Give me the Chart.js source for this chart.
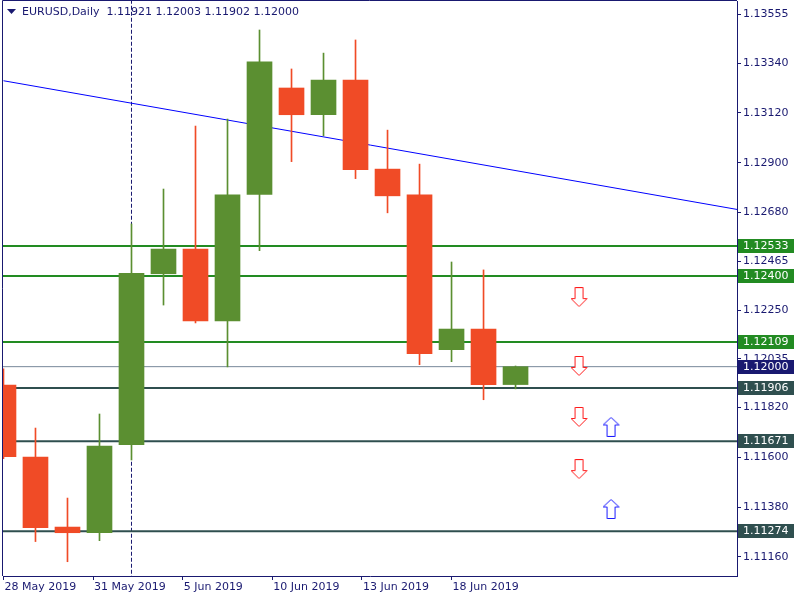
<!DOCTYPE html>
<html>
<head>
<meta charset="utf-8">
<script src="https://cdn.jsdelivr.net/npm/chart.js@4.4.1/dist/chart.umd.min.js"></script>
<style>
  html, body { margin: 0; padding: 0; background: #fff; }
  #wrap { width: 800px; height: 600px; }
</style>
</head>
<body>
<div id="wrap"><canvas id="chart" width="800" height="600"></canvas></div>
<script>
'use strict';

const TITLE = 'EURUSD,Daily  1.11921 1.12003 1.11902 1.12000';

// daily candles, 28 May 2019 .. 19 Jun 2019
const candleDates = ['28 May', '29 May', '30 May', '31 May', '3 Jun', '4 Jun', '5 Jun', '6 Jun', '7 Jun',
  '10 Jun', '11 Jun', '12 Jun', '13 Jun', '14 Jun', '17 Jun', '18 Jun', '19 Jun'];
const opens  = [1.11919, 1.11601, 1.11292, 1.11267, 1.11656, 1.12410, 1.12519, 1.12202, 1.12760,
  1.13230, 1.13112, 1.13265, 1.12872, 1.12758, 1.12075, 1.12166, 1.11921];
const highs  = [1.11990, 1.11729, 1.11420, 1.11791, 1.12630, 1.12784, 1.13062, 1.13093, 1.13486,
  1.13314, 1.13384, 1.13442, 1.13044, 1.12894, 1.12462, 1.12427, 1.12003];
const lows   = [1.11594, 1.11228, 1.11139, 1.11232, 1.11588, 1.12272, 1.12193, 1.11999, 1.12512,
  1.12905, 1.13019, 1.12830, 1.12679, 1.12009, 1.12022, 1.11854, 1.11902];
const closes = [1.11603, 1.11289, 1.11267, 1.11650, 1.12412, 1.12519, 1.12202, 1.12758, 1.13345,
  1.13112, 1.13265, 1.12869, 1.12754, 1.12057, 1.12166, 1.11920, 1.12000];

// time axis labels (bar index where each label sits)
const dateTicks  = [0, 2.8, 5.6, 8.4, 11.2, 14];
const dateLabels = ['28 May 2019', '31 May 2019', '5 Jun 2019', '10 Jun 2019', '13 Jun 2019', '18 Jun 2019'];

const priceTicks = [1.13555, 1.13340, 1.13120, 1.12900, 1.12680, 1.12465, 1.12250,
  1.12035, 1.11820, 1.11600, 1.11380, 1.11160];

const resistanceLevels = [1.12533, 1.12400, 1.12109];
const supportLevels    = [1.11906, 1.11671, 1.11274];
const bidLevel = 1.12000;

const trendX = [0, 22.92];
const trendY = [1.13262, 1.12694];
const markerBar = 4; // vertical dashed line on 3 Jun

const downArrowX = [18, 18, 18, 18];
const downArrowY = [1.12307, 1.12003, 1.11778, 1.11548];
const upArrowX = [19, 19];
const upArrowY = [1.11734, 1.11372];

const NAVY = '#191970';
const BULL = '#5b8f31';
const BEAR = '#f04b26';
const LEVEL_GREEN = '#228b22';
const LEVEL_SLATE = '#2f4f4f';
const FONT = 'DejaVu Sans, Verdana, sans-serif';

const X_MIN = -0.015, X_MAX = 22.92;
const Y_MIN = 1.11076, Y_MAX = 1.13614;

function makeArrow(color, up) {
  const c = document.createElement('canvas');
  c.width = 18; c.height = 20;
  const g = c.getContext('2d');
  g.beginPath();
  if (up) {
    g.moveTo(8.5, 0.5); g.lineTo(16.5, 8); g.lineTo(12.5, 8); g.lineTo(12.5, 19.5);
    g.lineTo(4.5, 19.5); g.lineTo(4.5, 8); g.lineTo(0.5, 8);
  } else {
    g.moveTo(4.5, 0.5); g.lineTo(12.5, 0.5); g.lineTo(12.5, 11.5); g.lineTo(16.5, 11.5);
    g.lineTo(8.5, 19.5); g.lineTo(0.5, 11.5); g.lineTo(4.5, 11.5);
  }
  g.closePath();
  g.fillStyle = '#fff';
  g.fill();
  g.strokeStyle = color;
  g.lineWidth = 1;
  g.stroke();
  return c;
}

function levelLine(value, color, width) {
  return {
    type: 'line',
    data: [{ x: -1, y: value }, { x: 24, y: value }],
    borderColor: color,
    borderWidth: width,
    pointRadius: 0,
    clip: 0,
    order: 4
  };
}

const candleColors = opens.map((o, i) => closes[i] >= o ? BULL : BEAR);

const chartFrame = {
  id: 'chartFrame',
  afterDraw(chart) {
    const { ctx, chartArea } = chart;
    const yScale = chart.scales.y;
    ctx.save();
    // left and top frame lines
    ctx.strokeStyle = NAVY;
    ctx.lineWidth = 1;
    ctx.beginPath();
    ctx.moveTo(chartArea.left - 0.5, chartArea.bottom);
    ctx.lineTo(chartArea.left - 0.5, chartArea.top - 0.5);
    ctx.lineTo(chartArea.right, chartArea.top - 0.5);
    ctx.stroke();

    // title
    ctx.fillStyle = NAVY;
    ctx.beginPath();
    ctx.moveTo(7, 9); ctx.lineTo(16, 9); ctx.lineTo(11.5, 14);
    ctx.closePath();
    ctx.fill();
    ctx.font = '11px ' + FONT;
    ctx.textBaseline = 'middle';
    ctx.textAlign = 'left';
    ctx.fillText(TITLE, 22, 12);

    // price labels of the levels on the right axis
    const boxes = [
      ...resistanceLevels.map(v => [v, LEVEL_GREEN]),
      [bidLevel, NAVY],
      ...supportLevels.map(v => [v, LEVEL_SLATE])
    ];
    boxes.forEach(([v, color]) => {
      const y = Math.round(yScale.getPixelForValue(v));
      ctx.fillStyle = color;
      ctx.fillRect(chartArea.right + 1, y - 7, 56, 14);
      ctx.fillStyle = '#fff';
      ctx.fillText(v.toFixed(5), chartArea.right + 6, y);
    });
    ctx.restore();
  }
};

const ctx = document.getElementById('chart').getContext('2d');
new Chart(ctx, {
  type: 'bar',
  data: {
    datasets: [
      {
        type: 'scatter',
        data: downArrowX.map((x, i) => ({ x, y: downArrowY[i] })),
        pointStyle: makeArrow('#ff1a1a', false),
        order: 0
      },
      {
        type: 'scatter',
        data: upArrowX.map((x, i) => ({ x, y: upArrowY[i] })),
        pointStyle: makeArrow('#1a1aff', true),
        order: 0
      },
      {
        label: 'body',
        data: opens.map((o, i) => ({ x: i, y: [o, closes[i]] })),
        backgroundColor: candleColors,
        barThickness: 25,
        grouped: false,
        borderWidth: 0,
        order: 1
      },
      {
        label: 'wick',
        data: lows.map((l, i) => ({ x: i, y: [l, highs[i]] })),
        backgroundColor: candleColors,
        barThickness: 1,
        grouped: false,
        borderWidth: 0,
        order: 2
      },
      {
        type: 'line',
        data: trendX.map((x, i) => ({ x, y: trendY[i] })),
        borderColor: '#0000ff',
        borderWidth: 1,
        pointRadius: 0,
        order: 3
      },
      ...resistanceLevels.map(v => levelLine(v, LEVEL_GREEN, 2)),
      ...supportLevels.map(v => levelLine(v, LEVEL_SLATE, 2)),
      levelLine(bidLevel, '#778899', 1),
      {
        type: 'line',
        data: [{ x: markerBar, y: 1.10 }, { x: markerBar, y: 1.15 }],
        borderColor: NAVY,
        borderWidth: 1,
        borderDash: [4, 2],
        pointRadius: 0,
        clip: 0,
        order: 5
      }
    ]
  },
  options: {
    responsive: false,
    animation: false,
    devicePixelRatio: 1,
    layout: { autoPadding: false, padding: { left: 3, top: 1, right: 0, bottom: 0 } },
    plugins: { legend: { display: false }, tooltip: { enabled: false } },
    scales: {
      x: {
        type: 'linear',
        position: 'bottom',
        offset: false,
        min: X_MIN,
        max: X_MAX,
        afterBuildTicks: scale => { scale.ticks = dateTicks.map(value => ({ value })); },
        afterFit: scale => {
          scale.height = 24;
          scale.paddingLeft = 0;
          scale.paddingRight = 0;
        },
        grid: { offset: false, drawOnChartArea: false, drawTicks: true, tickLength: 4, color: NAVY },
        border: { display: true, color: NAVY },
        ticks: {
          autoSkip: false,
          maxRotation: 0,
          align: 'start',
          labelOffset: 1,
          padding: 1,
          color: NAVY,
          font: { family: FONT, size: 11 },
          callback: (value, index) => dateLabels[index] || ''
        }
      },
      y: {
        type: 'linear',
        position: 'right',
        min: Y_MIN,
        max: Y_MAX,
        afterBuildTicks: scale => { scale.ticks = priceTicks.map(value => ({ value })); },
        afterFit: scale => {
          scale.width = 63;
          scale.paddingTop = 0;
          scale.paddingBottom = 0;
        },
        grid: { drawOnChartArea: false, drawTicks: true, tickLength: 4, color: NAVY },
        border: { display: true, color: NAVY },
        ticks: {
          padding: 2,
          color: NAVY,
          font: { family: FONT, size: 11 },
          callback: value => Number(value).toFixed(5)
        }
      }
    }
  },
  plugins: [chartFrame]
});
</script>
</body>
</html>
